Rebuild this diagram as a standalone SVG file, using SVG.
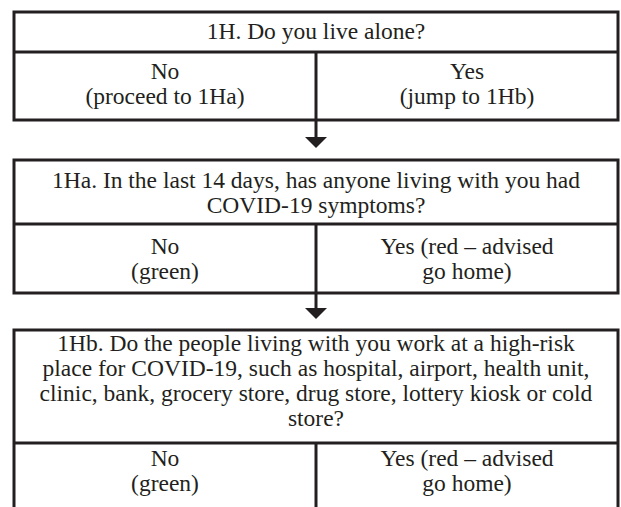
<svg xmlns="http://www.w3.org/2000/svg" width="621" height="507" viewBox="0 0 621 507">
<style>
.box{fill:#fff;stroke:#231f20;stroke-width:3}
.ln{stroke:#231f20;stroke-width:3;fill:none}
.conn{stroke:#231f20;stroke-width:3;fill:none}
.t{font-family:'Liberation Serif','DejaVu Serif',serif;font-size:23.5px;fill:#231f20;text-anchor:middle}
</style>
<rect width="621" height="507" fill="#fff"/>
<g id="connectors">
<line class="conn" x1="316" y1="120" x2="316" y2="138"/>
<polygon points="305,137 327,137 316,148" fill="#231f20"/>
<line class="conn" x1="316" y1="293" x2="316" y2="309"/>
<polygon points="305,308 327,308 316,319" fill="#231f20"/>
</g>
<g id="q1">
<rect class="box" x="14" y="12" width="604" height="108"/>
<line class="ln" x1="14" y1="52" x2="618" y2="52"/>
<line class="ln" x1="316" y1="52" x2="316" y2="120"/>
<text class="t" x="316" y="39">1H. Do you live alone?</text>
<text class="t" x="165" y="79">No</text>
<text class="t" x="165" y="104">(proceed to 1Ha)</text>
<text class="t" x="467" y="79">Yes</text>
<text class="t" x="467" y="104">(jump to 1Hb)</text>
</g>
<g id="q2">
<rect class="box" x="14" y="160" width="604" height="133"/>
<line class="ln" x1="14" y1="224" x2="618" y2="224"/>
<line class="ln" x1="316" y1="224" x2="316" y2="293"/>
<text class="t" x="316" y="188">1Ha. In the last 14 days, has anyone living with you had</text>
<text class="t" x="316" y="213">COVID-19 symptoms?</text>
<text class="t" x="165" y="254">No</text>
<text class="t" x="165" y="279">(green)</text>
<text class="t" x="467" y="254">Yes (red – advised</text>
<text class="t" x="467" y="279">go home)</text>
</g>
<g id="q3">
<rect class="box" x="14" y="330" width="604" height="190"/>
<line class="ln" x1="14" y1="443" x2="618" y2="443"/>
<line class="ln" x1="316" y1="443" x2="316" y2="507"/>
<text class="t" x="316" y="351">1Hb. Do the people living with you work at a high-risk</text>
<text class="t" x="316" y="376">place for COVID-19, such as hospital, airport, health unit,</text>
<text class="t" x="316" y="401">clinic, bank, grocery store, drug store, lottery kiosk or cold</text>
<text class="t" x="316" y="426">store?</text>
<text class="t" x="165" y="466">No</text>
<text class="t" x="165" y="491">(green)</text>
<text class="t" x="467" y="466">Yes (red – advised</text>
<text class="t" x="467" y="491">go home)</text>
</g>
</svg>
